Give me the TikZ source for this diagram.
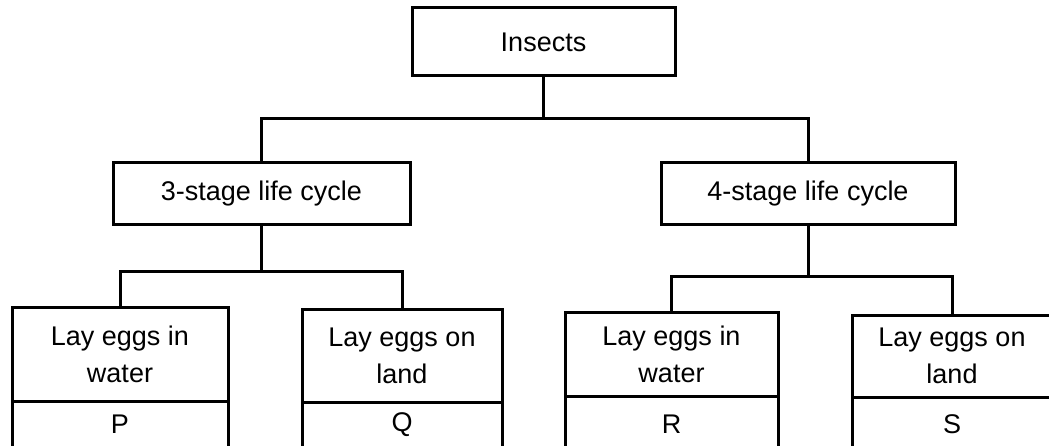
\documentclass[tikz,border=0pt]{standalone}
\usepackage{fontspec}
\setmainfont{Liberation Sans}
\begin{document}
\begin{tikzpicture}[x=1pt,y=1pt,
  box/.style={draw, line width=3pt, inner sep=0pt, outer sep=0pt, align=center,
    font=\fontsize{27}{37}\selectfont},
  link/.style={line width=3pt}]
\useasboundingbox (0,0) rectangle (1049,445);
\clip (0,0) rectangle (1049,445);
% top
\node[box, minimum width=263, minimum height=68] (top) at (543.5,403) {Insects};
% middle
\node[box, minimum width=297, minimum height=62] (mid3) at (261.5,251) {3-stage life cycle};
\node[box, minimum width=294, minimum height=62] (mid4) at (808,251) {4-stage life cycle};
% bottom upper parts
\node[box, minimum width=216, minimum height=94] (b1) at (120,91) {Lay eggs in\\water};
\node[box, minimum width=200, minimum height=93] (b2) at (402,89.5) {Lay eggs on\\land};
\node[box, minimum width=213, minimum height=84] (b3) at (671.5,91) {Lay eggs in\\water};
\node[box, minimum width=200, minimum height=82] (b4) at (952,89) {Lay eggs on\\land};
% bottom lower parts
\node[box, anchor=north, minimum width=216, minimum height=47] (p) at (b1.south) {P};
\node[box, anchor=north, minimum width=200, minimum height=45] (q) at (b2.south) {Q};
\node[box, anchor=north, minimum width=213, minimum height=57] (r) at (b3.south) {R};
\node[box, anchor=north, minimum width=200, minimum height=55] (s) at (b4.south) {S};
% connectors
\draw[link] (top.south) -- ++(0,-43) -| (mid3.north);
\draw[link] (top.south) -- ++(0,-43) -| (mid4.north);
\draw[link] (mid3.south) -- ++(0,-46) -| (b1.north);
\draw[link] (mid3.south) -- ++(0,-46) -| (b2.north);
\draw[link] (mid4.south) -- ++(0,-51) -| (b3.north);
\draw[link] (mid4.south) -- ++(0,-51) -| (b4.north);
\end{tikzpicture}
\end{document}
